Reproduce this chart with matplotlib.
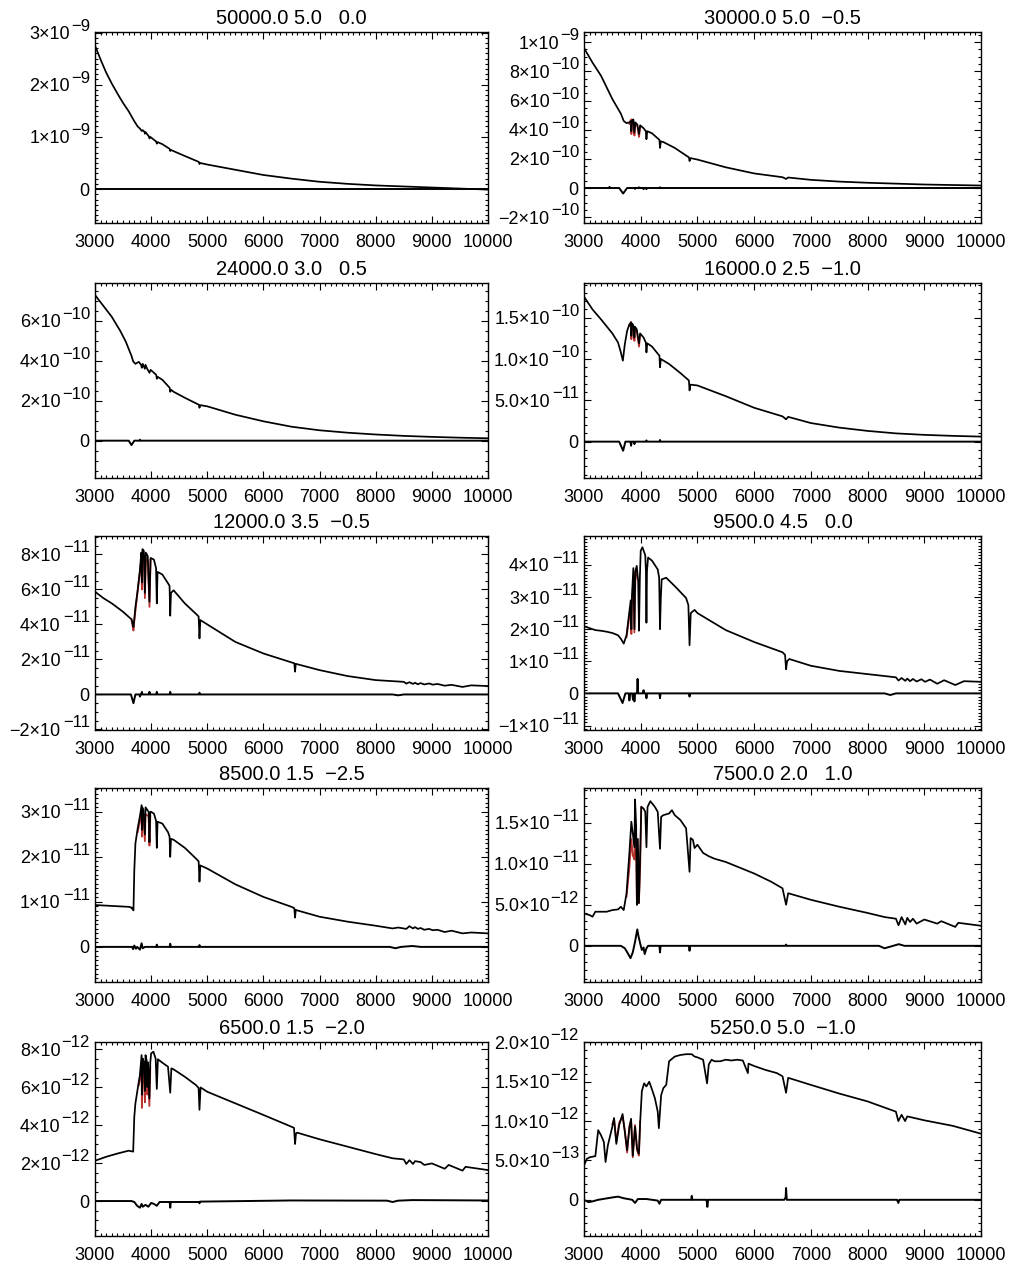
import numpy as np
import matplotlib.pyplot as plt
from matplotlib.ticker import MultipleLocator, NullFormatter
from matplotlib.transforms import offset_copy

plt.rcParams['font.family'] = 'Liberation Sans'

# model parameters shown in the panel titles
teff = [50000, 30000, 24000, 16000, 12000, 9500, 8500, 7500, 6500, 5250]
logg = [5.0, 5.0, 3.0, 2.5, 3.5, 4.5, 1.5, 2.0, 1.5, 5.0]
feh = [0.0, -0.5, 0.5, -1.0, -0.5, 0.0, -2.5, 1.0, -2.0, -1.0]

# flux unit of each panel, y range (in that unit) and major tick step
units = [1e-9, 1e-10, 1e-10, 1e-11, 1e-11, 1e-11, 1e-11, 1e-12, 1e-12, 1e-13]
ylims = [(-0.65, 3.01), (-2.4, 10.7), (-1.87, 7.9), (-4.4, 19.2), (-2.03, 9.05),
         (-1.14, 4.9), (-0.78, 3.53), (-4.4, 19.2), (-1.84, 8.37), (-4.6, 20.05)]
ysteps = [1, 2, 2, 5, 2, 1, 1, 5, 2, 5]

# spectra (wavelength in A, flux in panel units)
w1 = [3000, 3100, 3200, 3300, 3400, 3500, 3600, 3700, 3760, 3800, 3835, 3850, 3880, 3889, 3900,
      3960, 3970, 3985, 4090, 4101, 4115, 4200, 4330, 4340, 4352, 4500, 4850, 4861, 4873,
      5000, 5500, 6000, 6500, 7000, 7500, 8000, 8500, 9000, 9500, 10000]
f1 = [2.75, 2.48, 2.23, 2.02, 1.83, 1.65, 1.49, 1.3, 1.2, 1.16, 1.11, 1.13, 1.10, 1.06, 1.09,
      1.01, 0.97, 1.0, 0.91, 0.87, 0.9, 0.86, 0.77, 0.73, 0.75, 0.68, 0.52, 0.48, 0.5,
      0.47, 0.37, 0.27, 0.2, 0.14, 0.1, 0.07, 0.05, 0.03, 0.01, -0.01]

w2 = [3000, 3150, 3300, 3500, 3650, 3700, 3750, 3800, 3830, 3835, 3845, 3870, 3889, 3905, 3940,
      3970, 3990, 4050, 4090, 4101, 4115, 4200, 4330, 4340, 4355, 4400, 4600, 4850, 4861, 4880,
      5000, 5500, 6000, 6500, 6563, 6600, 7000, 7500, 8000, 9000, 10000]
f2 = [9.6, 8.6, 7.7, 6.1, 5.1, 4.6, 4.45, 4.5, 4.6, 3.9, 4.6, 4.7, 3.8, 4.5, 4.35,
      3.7, 4.3, 4.1, 3.9, 3.35, 3.9, 3.75, 3.3, 2.75, 3.2, 3.15, 2.75, 2.1, 1.85, 2.05,
      1.95, 1.42, 1.0, 0.74, 0.62, 0.72, 0.56, 0.44, 0.36, 0.24, 0.17]

w3 = [3000, 3150, 3300, 3450, 3550, 3650, 3680, 3720, 3780, 3820, 3835, 3850, 3889, 3900, 3930,
      3970, 3990, 4050, 4090, 4101, 4115, 4200, 4330, 4340, 4355, 4400, 4600, 4850, 4861, 4875,
      5000, 5500, 6000, 6500, 7000, 7500, 8000, 8500, 9000, 9500, 10000]
f3 = [7.3, 6.75, 6.2, 5.5, 4.95, 4.25, 3.97, 3.85, 3.95, 3.8, 3.65, 3.85, 3.6, 3.8, 3.6,
      3.4, 3.55, 3.4, 3.3, 3.1, 3.2, 3.05, 2.65, 2.45, 2.55, 2.45, 2.15, 1.8, 1.65, 1.78,
      1.72, 1.3, 0.97, 0.7, 0.52, 0.4, 0.31, 0.24, 0.19, 0.15, 0.12]

w4 = [3000, 3150, 3300, 3500, 3600, 3650, 3685, 3720, 3760, 3800, 3830, 3835, 3845, 3870, 3889,
      3900, 3930, 3970, 3990, 4050, 4090, 4101, 4115, 4200, 4330, 4340, 4355, 4500, 4700,
      4850, 4861, 4875, 5000, 5500, 6000, 6500, 6563, 6600, 7000, 7500, 8000, 8500, 9000,
      9500, 10000]
f4 = [17.55, 16.0, 14.8, 13.1, 12.0, 10.8, 9.8, 11.8, 13.4, 14.2, 14.4, 12.8, 14.3, 14.1, 12.6,
      13.9, 13.6, 11.9, 13.1, 12.6, 12.0, 10.8, 11.9, 11.5, 10.4, 9.0, 10.0, 9.4, 8.3,
      7.4, 6.2, 6.9, 6.8, 5.5, 4.1, 3.06, 2.7, 3.0, 2.25, 1.7, 1.3, 1.0, 0.82,
      0.7, 0.61]

w5 = [3000, 3150, 3300, 3500, 3650, 3672, 3685, 3700, 3720, 3760,
      3800, 3825, 3835, 3845, 3870, 3889, 3905, 3940, 3970, 3990,
      4050, 4088, 4101, 4114, 4200, 4300, 4328, 4340, 4353, 4400,
      4600, 4800, 4846, 4861, 4876, 5000, 5500, 6000, 6500, 6550,
      6563, 6576, 7000, 7500, 8000, 8500, 8545, 8600, 8665, 8700,
      8750, 8800, 8865, 8950, 9015, 9100, 9229, 9350, 9546, 9700, 10000]
f5 = [5.87, 5.5, 5.2, 4.72, 4.29, 4.0, 3.85, 4.3, 5.0, 5.96,
      7.1, 8.1, 6.4, 8.3, 8.2, 5.8, 8.1, 7.9, 5.3, 7.8,
      7.7, 7.2, 5.2, 7.0, 6.85, 6.35, 6.2, 4.5, 5.8, 5.95,
      5.2, 4.6, 4.45, 3.2, 4.25, 4.0, 3.0, 2.34, 1.83, 1.78,
      1.3, 1.75, 1.39, 1.05, 0.82, 0.72, 0.62, 0.7, 0.6, 0.67,
      0.58, 0.65, 0.57, 0.63, 0.56, 0.6, 0.5, 0.55, 0.43, 0.52, 0.48]

w6 = [3000, 3200, 3300, 3400, 3500, 3600, 3650, 3700, 3750, 3800,
      3825, 3835, 3845, 3870, 3889, 3905, 3930, 3955, 3970, 3985,
      4000, 4030, 4080, 4092, 4101, 4110, 4130, 4200, 4300, 4325,
      4340, 4355, 4370, 4450, 4600, 4800, 4840, 4861, 4882, 4950,
      5000, 5500, 6000, 6500, 6545, 6563, 6581, 6620, 7000, 7500,
      8000, 8500, 8545, 8600, 8665, 8700, 8750, 8800, 8865, 8950,
      9015, 9100, 9229, 9350, 9546, 9700, 10000]
f6 = [2.09, 1.97, 1.95, 1.92, 1.88, 1.81, 1.7, 1.55, 1.81, 2.55,
      2.9, 2.0, 3.0, 3.9, 2.0, 3.8, 3.97, 3.5, 1.95, 3.6,
      4.44, 4.55, 4.3, 3.8, 2.2, 3.8, 4.23, 4.13, 3.86, 3.6,
      2.0, 3.0, 3.55, 3.6, 3.34, 2.97, 2.75, 1.5, 2.5, 2.6,
      2.5, 1.97, 1.6, 1.28, 1.2, 0.75, 1.0, 1.07, 0.86, 0.7,
      0.6, 0.5, 0.4, 0.48, 0.39, 0.46, 0.38, 0.45, 0.37, 0.44,
      0.36, 0.43, 0.3, 0.41, 0.26, 0.38, 0.36]

w7 = [3000, 3300, 3600, 3640, 3655, 3670, 3685, 3700, 3720, 3760,
      3800, 3830, 3835, 3842, 3860, 3889, 3900, 3955, 3970, 3985,
      4000, 4050, 4088, 4101, 4114, 4200, 4300, 4328, 4340, 4353,
      4400, 4600, 4800, 4846, 4861, 4876, 5000, 5500, 6000, 6500,
      6550, 6563, 6576, 7000, 7500, 8000, 8300, 8400, 8545, 8600,
      8665, 8700, 8750, 8800, 8865, 8950, 9015, 9100, 9229, 9350,
      9546, 9700, 10000]
f7 = [0.93, 0.91, 0.89, 0.88, 0.85, 0.87, 0.81, 1.7, 2.3, 2.63,
      2.9, 3.15, 2.6, 3.1, 3.05, 2.5, 3.1, 3.0, 2.33, 3.0,
      3.0, 2.96, 2.8, 2.2, 2.78, 2.74, 2.55, 2.45, 2.0, 2.4,
      2.38, 2.2, 1.96, 1.9, 1.45, 1.81, 1.74, 1.39, 1.11, 0.89,
      0.86, 0.65, 0.82, 0.67, 0.56, 0.47, 0.41, 0.43, 0.4, 0.46,
      0.41, 0.44, 0.4, 0.42, 0.38, 0.4, 0.37, 0.38, 0.33, 0.36,
      0.3, 0.32, 0.3]

w8 = [3000, 3100, 3150, 3200, 3400, 3500, 3600, 3650, 3700, 3750,
      3800, 3835, 3860, 3889, 3900, 3920, 3933, 3950, 3968, 3990,
      4010, 4050, 4080, 4101, 4120, 4170, 4250, 4300, 4340, 4360,
      4400, 4500, 4550, 4600, 4700, 4800, 4861, 4880, 4920, 4950,
      5000, 5100, 5200, 5300, 5500, 6000, 6300, 6500, 6563, 6600,
      7000, 7500, 8000, 8300, 8500, 8545, 8600, 8665, 8700, 8750,
      8800, 8865, 9000, 9229, 9300, 9546, 9600, 10000]
f8 = [3.94, 3.74, 3.54, 4.15, 4.15, 4.35, 4.43, 4.75, 4.35, 6.4,
      11.3, 15.1, 13.7, 12.0, 17.8, 14.5, 5.0, 13.0, 5.2, 10.9,
      16.9, 16.7, 16.3, 12.0, 16.9, 17.6, 16.9, 16.3, 11.8, 15.7,
      15.9, 16.1, 16.5, 15.9, 15.3, 14.3, 9.0, 13.1, 12.9, 11.9,
      12.3, 11.3, 10.9, 10.6, 10.2, 8.8, 7.8, 7.0, 5.0, 6.4,
      5.6, 4.76, 4.0, 3.5, 3.3, 2.5, 3.5, 2.6, 3.4, 2.9,
      3.3, 2.7, 3.2, 2.7, 3.0, 2.3, 2.8, 2.44]

w9 = [3000, 3200, 3400, 3600, 3680, 3700, 3720, 3780, 3800, 3830,
      3835, 3850, 3870, 3889, 3900, 3920, 3933, 3945, 3968, 3985,
      4000, 4040, 4080, 4101, 4120, 4200, 4300, 4340, 4360, 4400,
      4600, 4800, 4845, 4861, 4880, 5000, 5500, 6000, 6500, 6545,
      6563, 6580, 6600, 7000, 7500, 8000, 8300, 8500, 8545, 8600,
      8665, 8700, 8800, 8865, 9000, 9229, 9300, 9546, 9600, 10000]
f9 = [2.12, 2.33, 2.5, 2.65, 2.6, 4.44, 5.14, 6.28, 6.63, 7.68,
      5.6, 7.5, 7.3, 5.8, 7.68, 7.4, 6.0, 7.3, 5.4, 7.3,
      7.77, 7.86, 7.5, 5.9, 7.46, 7.28, 7.07, 5.7, 6.98, 6.93,
      6.54, 6.1, 5.95, 4.8, 5.98, 5.75, 5.14, 4.53, 3.91, 3.85,
      3.0, 3.55, 3.6, 3.25, 2.86, 2.47, 2.25, 2.19, 1.95, 2.15,
      1.95, 2.1, 2.05, 1.9, 1.98, 1.7, 1.9, 1.6, 1.8, 1.63]

w10 = [3000, 3050, 3100, 3200, 3250, 3300, 3350, 3380, 3420, 3500,
       3530, 3570, 3620, 3680, 3720, 3760, 3800, 3830, 3860, 3900,
       3935, 3968, 3990, 4020, 4060, 4100, 4150, 4200, 4250, 4300,
       4320, 4360, 4400, 4450, 4500, 4600, 4700, 4800, 4900, 4950,
       5000, 5100, 5170, 5200, 5250, 5300, 5400, 5500, 5600, 5700,
       5800, 5890, 5900, 6000, 6200, 6400, 6500, 6563, 6600, 7000,
       7500, 8000, 8500, 8542, 8600, 8662, 8700, 9000, 9500, 10000]
f10 = [4.36, 5.2, 5.4, 5.55, 8.85, 8.2, 7.35, 4.8, 6.9, 9.3,
       10.4, 7.1, 9.5, 10.9, 8.6, 6.3, 9.1, 10.3, 5.6, 9.3,
       6.5, 5.85, 9.8, 13.8, 14.8, 14.4, 15.0, 14.0, 12.9, 11.2,
       9.1, 13.3, 14.2, 14.6, 17.6, 18.2, 18.4, 18.5, 18.5, 18.2,
       18.1, 17.8, 14.8, 17.2, 17.8, 17.6, 17.6, 17.8, 17.7, 17.8,
       17.7, 16.1, 17.3, 17.0, 16.5, 16.1, 15.7, 13.6, 15.5, 14.6,
       13.5, 12.5, 11.2, 10.0, 10.8, 10.0, 10.6, 10.1, 9.4, 8.4]

# fitted model (red), only where it departs from the data
mw2 = [3800, 3830, 3835, 3845, 3870, 3889, 3905, 3940, 3970, 3990]
mf2 = [4.4, 4.7, 3.7, 4.7, 4.6, 3.6, 4.4, 4.3, 3.5, 4.2]
mw4 = [3800, 3830, 3835, 3845, 3870, 3889, 3900, 3930, 3970, 3990]
mf4 = [14.0, 14.5, 12.4, 14.2, 13.9, 12.2, 13.8, 13.4, 11.5, 13.0]
mw5 = [3650, 3672, 3685, 3700, 3760, 3800, 3825, 3835, 3845, 3870, 3889, 3905, 3940, 3970, 3990]
mf5 = [4.29, 3.9, 3.65, 4.2, 5.9, 7.0, 7.8, 6.0, 8.0, 7.9, 5.5, 7.8, 7.6, 5.0, 7.7]
mw6 = [3750, 3800, 3825, 3835, 3845, 3870, 3889, 3905, 3930]
mf6 = [1.75, 2.4, 2.7, 1.85, 2.8, 3.6, 1.9, 3.5, 3.8]
mw7 = [3760, 3800, 3830, 3835, 3842, 3860, 3889, 3900, 3955, 3970, 3985]
mf7 = [2.55, 2.8, 3.05, 2.45, 2.95, 2.9, 2.35, 2.95, 2.9, 2.25, 2.9]
mw8 = [3750, 3800, 3835, 3860, 3889, 3900, 3920, 3933, 3950, 3968, 3990, 4010]
mf8 = [6.0, 9.5, 13.0, 11.0, 10.5, 14.5, 12.0, 5.0, 11.5, 5.2, 9.5, 16.9]
mw9 = [3780, 3800, 3830, 3835, 3850, 3870, 3889, 3900, 3920, 3933, 3945, 3968, 3985]
mf9 = [6.1, 6.4, 7.3, 4.9, 7.0, 6.8, 5.2, 7.3, 7.0, 5.6, 6.9, 5.0, 7.0]
mw10 = [3500, 3530, 3570, 3620, 3680, 3720, 3760, 3800, 3830, 3860, 3900, 3935, 3968, 3990]
mf10 = [9.6, 10.2, 7.4, 9.8, 10.6, 8.8, 6.0, 9.4, 10.1, 5.4, 9.5, 6.3, 5.6, 10.0]

# residuals (data - model)
rw1 = [3000, 10000]
r1 = [0, 0]
rw2 = [3000, 3440, 3450, 3460, 3620, 3690, 3760, 3890, 3900, 3910, 3960, 3970, 3980, 4040,
       4050, 4060, 4091, 4101, 4111, 4330, 4340, 4350, 10000]
r2 = [0, 0, 0.08, 0, 0, -0.38, 0, 0, -0.06, 0, 0, 0.05, 0, 0,
      -0.08, 0, 0, -0.08, 0, 0, 0.05, 0, 0]
rw3 = [3000, 3600, 3650, 3700, 3790, 3800, 3810, 10000]
r3 = [0, 0, -0.22, 0, 0, 0.05, 0, 0]
rw4 = [3000, 3620, 3690, 3730, 3820, 3830, 3840, 3880, 3889, 3900, 4091, 4101, 4111, 4330,
       4340, 4350, 10000]
r4 = [0, 0, -1.1, 0, 0, -0.5, 0, 0, -0.3, 0, 0, 0.15, 0, 0, 0.2, 0, 0]
rw5 = [3000, 3640, 3685, 3720, 3790, 3800, 3810, 3825, 3835, 3845, 3960, 3970, 3980, 4091,
       4101, 4111, 4330, 4340, 4350, 4851, 4861, 4871, 8300, 8400, 8500, 10000]
r5 = [0, 0, -0.5, 0, 0, -0.12, 0, 0, 0.15, 0, 0, 0.15, 0, 0,
      0.15, 0, 0, 0.15, 0, 0, 0.1, 0, 0, -0.05, 0, 0]
rw6 = [3000, 3600, 3680, 3730, 3790, 3800, 3815, 3850, 3865, 3880, 3889, 3900, 3935, 3945,
       3955, 4040, 4050, 4060, 4091, 4101, 4111, 4330, 4340, 4350, 4851, 4861, 4871, 8300,
       8400, 8500, 10000]
r6 = [0, 0, -0.3, 0, 0, -0.22, 0, 0, -0.2, 0, -0.25, 0, 0, 0.45,
      0, 0, 0.1, 0, 0, -0.15, 0, 0, -0.15, 0, 0, -0.1, 0, 0,
      -0.05, 0, 0]
rw7 = [3000, 3660, 3680, 3700, 3730, 3750, 3800, 3830, 3850, 3890, 4091, 4101, 4111, 4330,
       4340, 4350, 4851, 4861, 4871, 8250, 8350, 8450, 8650, 8800, 10000]
r7 = [0, 0, -0.05, 0.03, -0.04, 0, -0.06, 0.08, -0.03, 0, 0, 0.05, 0, 0,
      0.07, 0, 0, 0.04, 0, 0, -0.03, 0, 0.02, 0, 0]
rw8 = [3000, 3650, 3720, 3780, 3820, 3860, 3900, 3940, 3960, 3990, 4020, 4050, 4070, 4101,
       4130, 4330, 4340, 4350, 4851, 4861, 4871, 6550, 6563, 6575, 8200, 8300, 8450, 8550,
       8650, 10000]
r8 = [0, 0, -0.3, -1.0, -1.5, -0.8, 0.5, 2.0, 1.2, 0.3, -0.5, -0.2, -1.0, -0.3,
      0, 0, -0.8, 0, 0, -0.6, 0, 0, 0.15, 0, 0, -0.3, 0, 0.2,
      0, 0]
rw9 = [3000, 3650, 3700, 3750, 3800, 3830, 3850, 3900, 3950, 4000, 4050, 4101, 4150, 4330,
       4340, 4350, 4851, 4861, 4871, 6500, 8200, 8300, 8400, 8650, 10000]
r9 = [0, 0, -0.05, -0.25, -0.35, -0.15, -0.3, -0.2, -0.3, -0.1, -0.15, -0.25, -0.05, -0.05,
      -0.35, -0.05, -0.05, -0.12, -0.03, 0.03, 0.02, -0.05, 0.02, 0.05, 0.03]
rw10 = [3000, 3080, 3150, 3250, 3500, 3600, 3700, 3850, 3900, 3950, 4100, 4300, 4330, 4360,
        4500, 4890, 4900, 4910, 5160, 5175, 5190, 6530, 6555, 6563, 6575, 8520, 8542, 8560,
        10000]
r10 = [0, -0.3, -0.2, 0, 0.3, 0.4, 0.2, 0, -0.4, 0.1, 0.1, -0.1, -0.5, 0,
       0, 0, 0.5, 0, 0, -0.9, 0, 0, 0.3, 1.5, 0, 0, -0.4, 0,
       0]

spectra = [(w1, f1), (w2, f2), (w3, f3), (w4, f4), (w5, f5),
           (w6, f6), (w7, f7), (w8, f8), (w9, f9), (w10, f10)]
models = [None, (mw2, mf2), None, (mw4, mf4), (mw5, mf5),
          (mw6, mf6), (mw7, mf7), (mw8, mf8), (mw9, mf9), (mw10, mf10)]
resids = [(rw1, r1), (rw2, r2), (rw3, r3), (rw4, r4), (rw5, r5),
          (rw6, r6), (rw7, r7), (rw8, r8), (rw9, r9), (rw10, r10)]

W, H = 1010, 1266
rows = [(32, 223), (283, 478), (536, 730), (788, 982), (1042, 1236)]
cols = [(95, 393), (584, 397)]

LAB = 13.0      # tick label size (pt)
SUP = 12.0      # exponent size (pt)
MINUS = '\u2212'


def ylabels(ax, fig, ticks, dec, u):
    """IDL-like 'a x 10^n' labels with a large exponent."""
    trans = ax.get_yaxis_transform()
    sup_px = SUP * 100 / 72.0
    for t in ticks:
        v = t * u
        if abs(t) < 1e-9:
            ax.text(0, v, '0', fontsize=LAB, ha='right', va='center_baseline',
                    transform=offset_copy(trans, fig=fig, x=-6, y=0, units='dots'))
            continue
        e = int(np.floor(np.log10(abs(v)) + 1e-6))
        m = v / 10.0 ** e
        base = ('%.*f' % (dec, m)).replace('-', MINUS) + '\u00d710'
        sup = ('%d' % e).replace('-', MINUS)
        wsup = sup_px * (0.584 + 0.556 * (len(sup) - 1))
        ax.text(0, v, sup, fontsize=SUP, ha='right', va='center_baseline',
                transform=offset_copy(trans, fig=fig, x=-5, y=8, units='dots'))
        ax.text(0, v, base, fontsize=LAB, ha='right', va='center_baseline',
                transform=offset_copy(trans, fig=fig, x=-6 - wsup, y=0, units='dots'))


fig = plt.figure(figsize=(W / 100, H / 100), dpi=100)

for i in range(10):
    top, bot = rows[i // 2]
    left, width = cols[i % 2]
    ax = fig.add_axes([left / W, 1 - bot / H, width / W, (bot - top) / H])
    u = units[i]

    if models[i] is not None:
        mw, mf = models[i]
        ax.plot(mw, np.array(mf) * u, color='#b8322e', lw=1.3, zorder=2)
    w, f = spectra[i]
    ax.plot(w, np.array(f) * u, color='black', lw=1.25, zorder=3)
    rw, r = resids[i]
    ax.plot(rw, np.array(r) * u, color='black', lw=1.4, zorder=3)

    ax.set_xlim(3000, 10000)
    lo, hi = ylims[i]
    ax.set_ylim(lo * u, hi * u)
    ax.xaxis.set_major_locator(MultipleLocator(1000))
    ax.xaxis.set_minor_locator(MultipleLocator(100))
    step = ysteps[i]
    ax.yaxis.set_major_locator(MultipleLocator(step * u))
    nminor = {1: 10, 2: 4, 5: 5}[step]
    ax.yaxis.set_minor_locator(MultipleLocator(step * u / nminor))
    ax.yaxis.set_major_formatter(NullFormatter())
    ticks = np.arange(np.ceil(lo / step) * step, hi + 1e-6, step)
    ylabels(ax, fig, ticks, 1 if step == 5 else 0, u)

    ax.tick_params(which='both', direction='in', top=True, right=True, width=0.8,
                   labelsize=LAB)
    ax.tick_params(which='major', length=5)
    ax.tick_params(which='minor', length=2.5)
    ax.tick_params(axis='x', pad=8)
    for s in ax.spines.values():
        s.set_linewidth(1.0)

    title = '%.1f %.1f %5.1f' % (teff[i], logg[i], feh[i])
    ax.set_title(title.replace('-', MINUS), fontsize=14.5, pad=6)

fig.savefig('out.png', dpi=100)
